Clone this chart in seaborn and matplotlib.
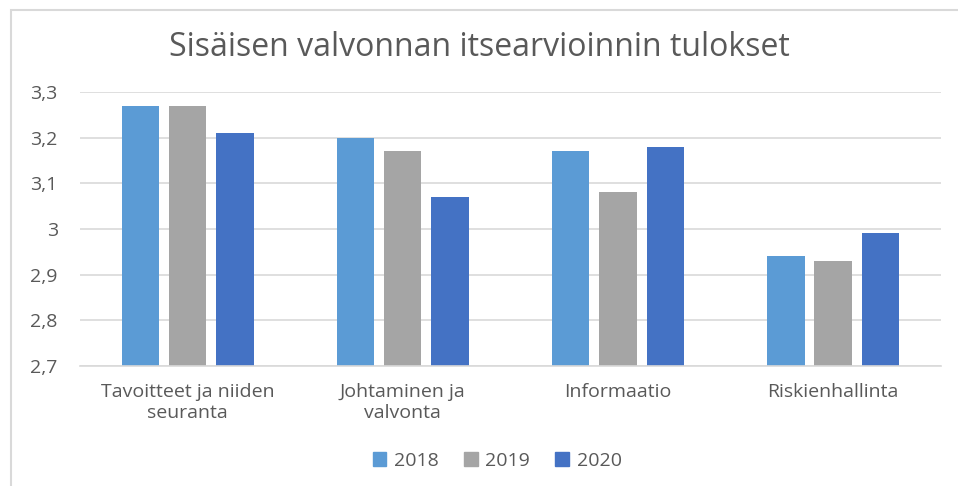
"""
Sisäisen valvonnan itsearvioinnin tulokset - grouped bar chart.
"""

import pandas as pd
import matplotlib.pyplot as plt
import matplotlib.patches as mpatches
from matplotlib.ticker import FuncFormatter, MultipleLocator
import seaborn as sns

# --- Data ---
categories = ["Tavoitteet ja niiden\nseuranta", "Johtaminen ja\nvalvonta",
              "Informaatio", "Riskienhallinta"]
years = ["2018", "2019", "2020"]
values_2018 = [3.27, 3.20, 3.17, 2.94]
values_2019 = [3.27, 3.17, 3.08, 2.93]
values_2020 = [3.21, 3.07, 3.18, 2.99]
colors = ["#5B9BD5", "#A5A5A5", "#4472C4"]

title = "Sisäisen valvonnan itsearvioinnin tulokset"
text_color = "#595959"
grid_color = "#D9D9D9"

rows = []
for year, vals in zip(years, [values_2018, values_2019, values_2020]):
    for cat, v in zip(categories, vals):
        rows.append({"kategoria": cat, "vuosi": year, "arvo": v})
df = pd.DataFrame(rows)

# --- Plot ---
sns.set_theme(style="white")
plt.rcParams["font.family"] = ["Open Sans", "DejaVu Sans"]

fig = plt.figure(figsize=(9.58, 4.86), dpi=100)
ax = fig.add_axes([0.0835, 0.247, 0.8985, 0.564])

sns.barplot(data=df, x="kategoria", y="arvo", hue="vuosi", order=categories,
            hue_order=years, palette=colors, width=0.66, gap=0.21,
            saturation=1, edgecolor="none", legend=False, ax=ax)

ax.set_ylim(2.7, 3.3)
ax.yaxis.set_major_locator(MultipleLocator(0.1))
ax.yaxis.set_major_formatter(FuncFormatter(lambda v, _: f"{v:.1f}".rstrip("0").rstrip(".").replace(".", ",")))
ax.grid(axis="y", color=grid_color, linewidth=1.2)
ax.set_axisbelow(True)
for s in ["top", "right", "left"]:
    ax.spines[s].set_visible(False)
ax.spines["bottom"].set_color(grid_color)
ax.spines["bottom"].set_linewidth(1.2)
ax.set_xlabel("")
ax.set_ylabel("")
ax.tick_params(axis="y", length=0, pad=16, labelsize=14, labelcolor=text_color)
ax.tick_params(axis="x", length=0, pad=12, labelsize=14, labelcolor=text_color)
for lbl in ax.get_xticklabels():
    lbl.set_linespacing(1.25)

fig.text(0.5, 0.903, title, ha="center", va="center", fontsize=23, color=text_color)

handles = [mpatches.Patch(color=c, label=y) for c, y in zip(colors, years)]
fig.legend(handles=handles, loc="center", bbox_to_anchor=(0.519, 0.052), ncol=3,
           frameon=False, fontsize=14, labelcolor=text_color, handlelength=0.7,
           handleheight=0.7, handletextpad=0.4, columnspacing=1.3)

# chart border (only top and left edges visible in the crop)
fig.add_artist(mpatches.Rectangle((11 / 958, -0.1), 1.2, 1.1 - 10 / 486,
                                  transform=fig.transFigure, fill=False,
                                  edgecolor=grid_color, linewidth=1.5))

plt.savefig("out.png", dpi=100)
plt.close()
